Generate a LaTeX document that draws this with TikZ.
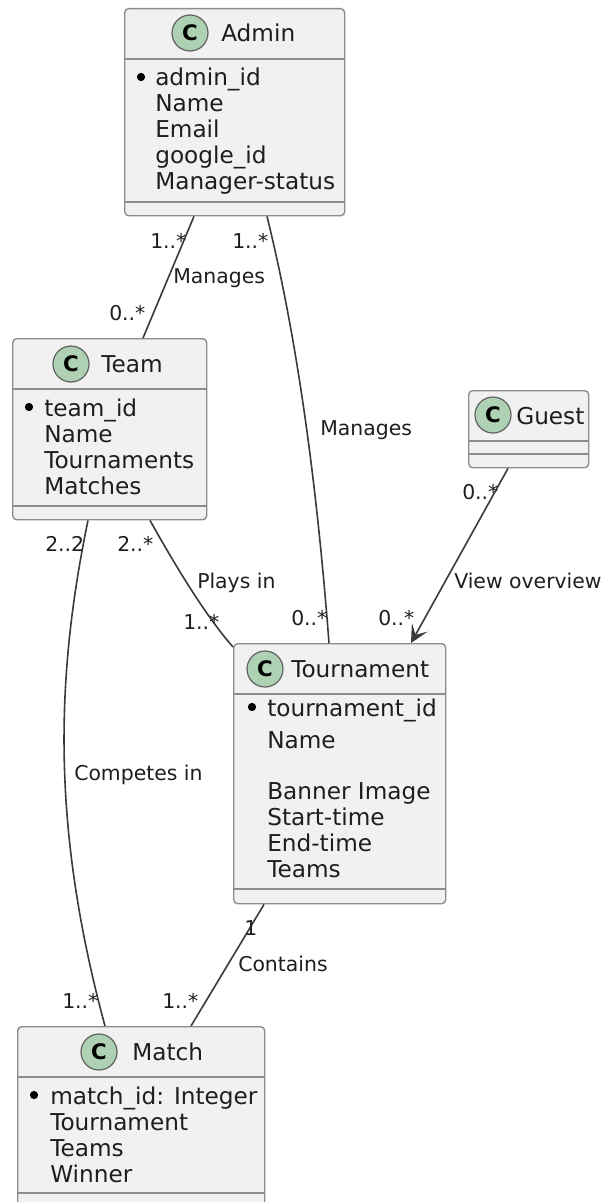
\documentclass[tikz,border=0pt]{standalone}
\usepackage{fontspec}
\setmainfont{DejaVu Sans}
\usetikzlibrary{arrows.meta,calc}
\definecolor{boxfill}{HTML}{F1F1F1}
\definecolor{boxline}{HTML}{8C8C8C}
\definecolor{inkline}{HTML}{3A3A3A}
\definecolor{spot}{HTML}{ADD1B2}
\definecolor{inktext}{HTML}{1E1E1E}
\tikzset{
  x=0.75pt,y=-0.75pt,
  classbox/.style={draw=boxline,fill=boxfill,line width=1.05pt,rounded corners=3pt,anchor=north west,inner sep=0pt},
  sep/.style={draw=boxline,line width=1.05pt},
  badge/.style={circle,draw=inkline!80,fill=spot,line width=0.9pt,minimum size=27pt,inner sep=0pt,text=black,font=\fontsize{16}{20}\selectfont\bfseries},
  title/.style={anchor=base west,inner sep=0pt,text=inktext,font=\fontsize{17.4}{20}\selectfont},
  attr/.style={anchor=base west,inner sep=0pt,text=inktext,font=\fontsize{17.4}{20}\selectfont},
  lab/.style={anchor=base west,inner sep=0pt,text=inktext,font=\fontsize{15.3}{18}\selectfont},
  dot/.style={circle,fill=black,minimum size=6.2pt,inner sep=0pt},
  link/.style={draw=inkline,line width=1.2pt},
}
\newcommand{\boxat}[6]{% name, x, y, width, height, header line y
  \node[classbox,minimum width=#4*0.75pt,minimum height=#5*0.75pt] (#1) at (#2,#3) {};
  \draw[sep] (#2,#6) -- (#2+#4,#6);
}
\begin{document}
\begin{tikzpicture}
\useasboundingbox (0,0) rectangle (605,1202);
% Admin
\boxat{admin}{124}{8}{220}{207}{59}
\draw[sep] (124,202) -- (344,202);
\node[badge] (adminC) at (190,33) {C};
\node[title] (adminT) at (221,42) {Admin};
\node[dot] (adminD) at (141,77) {};
\node[attr] (admin1) at (155,86) {admin\_id};
\node[attr] (admin2) at (155,112) {Name};
\node[attr] (admin3) at (155,138) {Email};
\node[attr] (admin4) at (155,164) {google\_id};
\node[attr] (admin5) at (155,190) {Manager-status};
% Team
\boxat{team}{12}{338}{194}{181}{389}
\draw[sep] (12,506) -- (206,506);
\node[badge] (teamC) at (71,364) {C};
\node[title] (teamT) at (101,372) {Team};
\node[dot] (teamD) at (29,407) {};
\node[attr] (team1) at (44,416) {team\_id};
\node[attr] (team2) at (44,442) {Name};
\node[attr] (team3) at (44,468) {Tournaments};
\node[attr] (team4) at (44,494) {Matches};
% Guest
\boxat{guest}{468}{390}{120}{77}{441}
\draw[sep] (468,454) -- (588,454);
\node[badge] (guestC) at (493,415) {C};
\node[title] (guestT) at (516,424) {Guest};
% Tournament
\boxat{tour}{233}{643}{212}{260}{694}
\draw[sep] (233,889) -- (445,889);
\node[badge] (tourC) at (265,669) {C};
\node[title] (tourT) at (291,677) {Tournament};
\node[dot] (tourD) at (252,707) {};
\node[attr] (tour1) at (267,716) {tournament\_id};
\node[attr] (tour2) at (267,748) {Name};
\node[attr] (tour3) at (267,799) {Banner Image};
\node[attr] (tour4) at (267,825) {Start-time};
\node[attr] (tour5) at (267,851) {End-time};
\node[attr] (tour6) at (267,877) {Teams};
% Match
\boxat{match}{17}{1026}{247}{182}{1077}
\draw[sep] (17,1193) -- (264,1193);
\node[badge] (matchC) at (99,1052) {C};
\node[title] (matchT) at (132,1060) {Match};
\node[dot] (matchD) at (34,1095) {};
\node[attr] (match1) at (50,1104) {match\_id: Integer};
\node[attr] (match2) at (50,1130) {Tournament};
\node[attr] (match3) at (50,1156) {Teams};
\node[attr] (match4) at (50,1182) {Winner};
% Connectors
\draw[link] ($(admin.south west)+(70,0)$) -- ($(team.north west)+(131,0)$);
\draw[link] ($(admin.south west)+(143,0)$) .. controls (300,350) and (318,500) .. ($(tour.north west)+(96,0)$);
\draw[link] ($(team.south west)+(138,0)$) .. controls (175,565) and (205,615) .. ($(tour.north west)+(0,4)$);
\draw[link] ($(team.south west)+(76,0)$) .. controls (55,680) and (52,830) .. ($(match.north west)+(88,0)$);
\draw[link,-{Stealth[length=13.5pt,width=13.5pt,inset=6.5pt]}] ($(guest.south west)+(40,0)$) -- ($(tour.north west)+(178,0)$);
\draw[link] ($(tour.south west)+(31,0)$) -- ($(match.north west)+(174,0)$);
% Labels
\node[lab] (l1) at (150,248) {1..*};
\node[lab] (l2) at (109,320) {0..*};
\node[lab] (l3) at (173,283) {Manages};
\node[lab] (l4) at (232,248) {1..*};
\node[lab] (l5) at (320,435) {Manages};
\node[lab] (l6) at (462,499) {0..*};
\node[lab] (l7) at (454,588) {View overview};
\node[lab] (l8) at (378,625) {0..*};
\node[lab] (l9) at (291,625) {0..*};
\node[lab] (l10) at (183,629) {1..*};
\node[lab] (l11) at (197,588) {Plays in};
\node[lab] (l12) at (117,551) {2..*};
\node[lab] (l13) at (45,551) {2..2};
\node[lab] (l14) at (74,780) {Competes in};
\node[lab] (l15) at (62,1008) {1..*};
\node[lab] (l16) at (162,1008) {1..*};
\node[lab] (l17) at (244,935) {1};
\node[lab] (l18) at (238,971) {Contains};
\end{tikzpicture}
\end{document}
